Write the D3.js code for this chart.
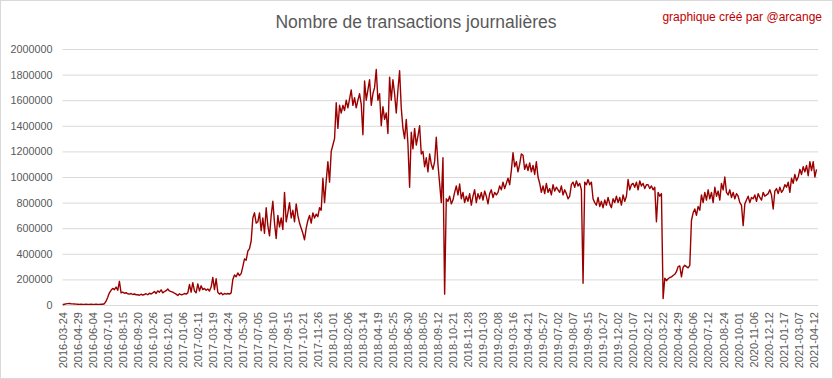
<!DOCTYPE html>
<html>
<head>
<meta charset="utf-8">
<script src="https://cdn.jsdelivr.net/npm/d3@7"></script>
<style>
  html, body { margin: 0; padding: 0; background: #fff; }
  svg { display: block; font-family: "Liberation Sans", Arial, sans-serif; }
</style>
</head>
<body>
<div id="chart"></div>
<script>
// x axis labels, one every 36 days (Excel category axis)
const tickLabels = [
  '2016-03-24','2016-04-29','2016-06-04','2016-07-10','2016-08-15','2016-09-20','2016-10-26','2016-12-01',
  '2017-01-06','2017-02-11','2017-03-19','2017-04-24','2017-05-30','2017-07-05','2017-08-10','2017-09-15',
  '2017-10-21','2017-11-26','2018-01-01','2018-02-06','2018-03-14','2018-04-19','2018-05-25','2018-06-30',
  '2018-08-05','2018-09-12','2018-10-21','2018-11-28','2019-01-03','2019-02-08','2019-03-16','2019-04-21',
  '2019-05-27','2019-07-02','2019-08-07','2019-09-15','2019-10-27','2019-12-02','2020-01-07','2020-02-12',
  '2020-03-22','2020-04-29','2020-06-06','2020-07-12','2020-08-24','2020-10-01','2020-11-06','2020-12-12',
  '2021-01-17','2021-03-07','2021-04-12'
];
const labelEvery = 36;
const nDays = 1812;
const sampleStep = 4; // one value read every 4 days

const yTicks = [0, 200000, 400000, 600000, 800000, 1000000, 1200000, 1400000, 1600000, 1800000, 2000000];

// daily transactions (thousands), every 4th day
const txThousands = [
  2, 6, 9, 11, 12, 10, 9, 8, 7,
  6, 5, 6, 5, 5, 6, 5, 5, 6,
  5, 5, 6, 5, 5, 6, 6, 10, 30,
  60, 95, 115, 130, 120, 140, 115, 185, 95,
  100, 92, 96, 88, 85, 90, 82, 86, 80,
  80, 76, 84, 78, 82, 88, 80, 92, 86,
  95, 105, 90, 110, 100, 118, 95, 105, 112,
  125, 110, 105, 100, 92, 85, 75, 88, 80,
  82, 90, 85, 95, 160, 100, 175, 110, 95,
  165, 110, 150, 120, 130, 115, 125, 110, 140,
  215, 120, 205, 100, 85, 95, 80, 90, 85,
  90, 85, 95, 200, 235, 220, 250, 230, 245,
  300, 360, 350, 420, 440, 500, 680, 720, 640,
  650, 720, 580, 680, 560, 760, 620, 540, 700,
  810, 640, 520, 700, 610, 680, 590, 880, 650,
  720, 800, 680, 740, 650, 790, 700, 640, 600,
  560, 510, 600, 660, 700, 640, 720, 680, 710,
  690, 760, 740, 990, 800, 970, 1120, 960, 1200,
  1250, 1300, 1580, 1380, 1560, 1500, 1560, 1520, 1600,
  1540, 1610, 1680, 1560, 1620, 1540, 1600, 1650, 1570,
  1330, 1750, 1600, 1680, 1760, 1560, 1650, 1700, 1840,
  1600, 1650, 1400, 1550, 1450, 1500, 1340, 1780, 1600,
  1760, 1650, 1500, 1680, 1830, 1540, 1380, 1300, 1450,
  1260, 920, 1350, 1220, 1380, 1250, 1320, 1400, 1180,
  1200, 1080, 1150, 1040, 1180, 1100, 1060, 1120, 1310,
  1100, 950, 800, 1150, 85, 830, 810, 850, 790,
  820, 880, 930, 860, 945, 830, 880, 800, 850,
  810, 870, 780, 850, 900, 800, 870, 830, 880,
  820, 890, 850, 790, 870, 900, 840, 880, 860,
  880, 930, 900, 960, 910, 950, 990, 940, 1050,
  1190, 1080, 1120, 1040, 1100, 1180, 1170, 1060, 1100,
  1050, 1110, 1040, 1090, 1020, 1120, 1000, 950, 880,
  930, 870, 950, 880, 910, 860, 940, 890, 920,
  900, 880, 930, 860, 900, 870, 830, 850, 940,
  960, 920, 970, 930, 950, 900, 170, 960, 940,
  980, 940, 960, 830, 800, 780, 840, 770, 810,
  760, 820, 780, 840, 790, 760, 830, 800, 850,
  800, 840, 780, 860, 810, 850, 980, 900, 940,
  950, 920, 960, 900, 970, 930, 950, 910, 940,
  940, 910, 930, 900, 920, 650, 880, 850, 870,
  50, 210, 190, 205, 215, 220, 230, 240, 260,
  300, 305, 220, 295, 310, 300, 290, 310, 660,
  720, 750, 700, 770, 740, 860, 800, 880, 820,
  900, 830, 880, 800, 920, 850, 890, 820, 950,
  900, 1000, 880, 860, 900, 840, 880, 830, 870,
  850, 800, 780, 620, 790, 820, 850, 800, 840,
  830, 860, 810, 870, 840, 820, 880, 850, 860,
  870, 900, 860, 750, 890, 910, 870, 920, 880,
  900, 940, 920, 960, 880, 990, 950, 1020, 970,
  1000, 1060, 1020, 1080, 1040, 1090, 1010, 1120, 1050,
  1120, 1000, 1060
];

const width = 833, height = 379;
const plot = { left: 62.5, right: 818, top: 49, bottom: 305 };

const svg = d3.select('#chart').append('svg')
  .attr('width', width)
  .attr('height', height);

svg.append('rect')
  .attr('x', 0.5).attr('y', 0.5)
  .attr('width', width - 1).attr('height', height - 1)
  .attr('fill', '#fff')
  .attr('stroke', '#d9d9d9');

const x = d3.scaleLinear().domain([-0.5, nDays - 0.5]).range([plot.left, plot.right]);
const y = d3.scaleLinear().domain([0, 2000000]).range([plot.bottom, plot.top]);

// y axis + gridlines
const yAxis = svg.append('g')
  .attr('transform', `translate(${plot.left},0)`)
  .call(d3.axisLeft(y).tickValues(yTicks).tickFormat(d3.format('d'))
    .tickSize(-(plot.right - plot.left)).tickPadding(10));
yAxis.select('.domain').remove();
yAxis.selectAll('line').attr('stroke', '#d9d9d9');
yAxis.selectAll('text')
  .attr('fill', '#595959')
  .style('font-size', '10.8px');

// x axis labels (rotated)
const xAxis = svg.append('g')
  .attr('transform', `translate(0,${plot.bottom})`)
  .call(d3.axisBottom(x)
    .tickValues(tickLabels.map((d, i) => i * labelEvery))
    .tickFormat(d => tickLabels[d / labelEvery])
    .tickSize(0).tickPadding(0));
xAxis.select('.domain').remove();
xAxis.selectAll('text')
  .attr('fill', '#595959')
  .style('font-size', '11px')
  .attr('text-anchor', 'end')
  .attr('x', -7)
  .attr('y', 0)
  .attr('dy', '0.35em')
  .attr('transform', 'rotate(-90)');

// data line
const pts = txThousands.map((v, k) => ({ i: k * sampleStep, v: v * 1000 }));
const line = d3.line().x(d => x(d.i)).y(d => y(d.v));

svg.append('path')
  .datum(pts)
  .attr('d', line)
  .attr('fill', 'none')
  .attr('stroke', '#9b0000')
  .attr('stroke-width', 1.4)
  .attr('stroke-linejoin', 'round');

// titles
svg.append('text')
  .attr('x', 416).attr('y', 28)
  .attr('text-anchor', 'middle')
  .attr('fill', '#595959')
  .style('font-size', '17.5px')
  .text('Nombre de transactions journalières');

svg.append('text')
  .attr('x', 822).attr('y', 21)
  .attr('text-anchor', 'end')
  .attr('fill', '#c00000')
  .style('font-size', '12px')
  .text('graphique créé par @arcange');
</script>
</body>
</html>
